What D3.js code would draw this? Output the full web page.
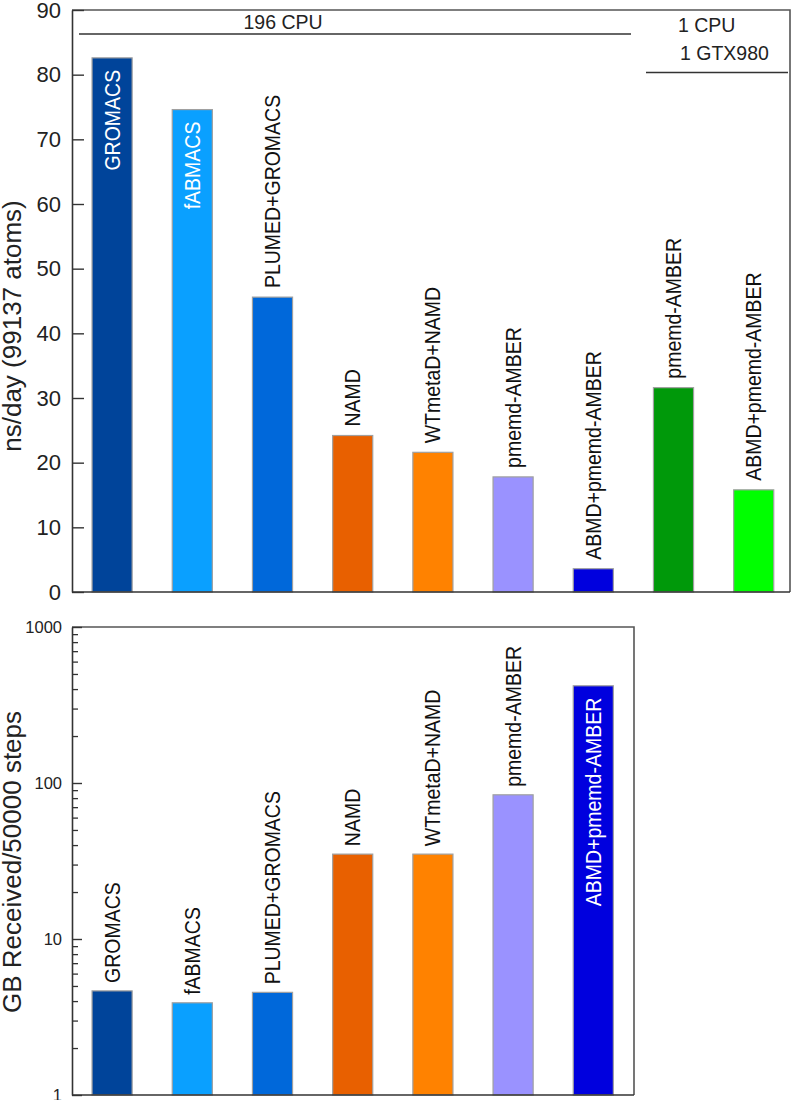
<!DOCTYPE html>
<html>
<head>
<meta charset="utf-8">
<script src="https://cdn.jsdelivr.net/npm/d3@7"></script>
<style>
  html, body { margin: 0; padding: 0; background: #fff; }
  svg { display: block; font-family: "Liberation Sans", Arial, Helvetica, sans-serif; }
</style>
</head>
<body>
<svg id="chart" width="797" height="1100"></svg>
<script>
// ---------- data ----------
const topCategories = ["GROMACS", "fABMACS", "PLUMED+GROMACS", "NAMD", "WTmetaD+NAMD",
  "pmemd-AMBER", "ABMD+pmemd-AMBER", "pmemd-AMBER", "ABMD+pmemd-AMBER"];
const topValues = [82.6, 74.6, 45.6, 24.2, 21.6, 17.8, 3.6, 31.6, 15.8];
const topTickValues = [0, 10, 20, 30, 40, 50, 60, 70, 80, 90];

const bottomCategories = ["GROMACS", "fABMACS", "PLUMED+GROMACS", "NAMD", "WTmetaD+NAMD",
  "pmemd-AMBER", "ABMD+pmemd-AMBER"];
const bottomValues = [4.65, 3.9, 4.55, 35, 35, 84, 420];
const bottomTickValues = [1, 10, 100, 1000];

const groupLabels = ["196 CPU", "1 CPU", "1 GTX980"];
const topTitle = "ns/day (99137 atoms)";
const bottomTitle = "GB Received/50000 steps";

// ---------- styles ----------
const barColors = ["#00449a", "#0aa0ff", "#0068da", "#e86000", "#ff8200",
  "#9a92ff", "#0000de", "#00990a", "#00ff00"];
const axisColor = "#333";
const barStroke = "#a0a0a0";

const svg = d3.select("#chart");
const step = 80.2;

// ---------- top chart ----------
const T = { left: 72, right: 790, top: 10, bottom: 592 };
const xTop = d3.scaleBand().domain(d3.range(topCategories.length))
  .range([T.left, T.left + step * topCategories.length]).paddingInner(0.5).paddingOuter(0.25);
const yTop = d3.scaleLinear().domain([0, 90]).range([T.bottom, T.top]);

const gTop = svg.append("g");

function drawBars(g, cats, vals, x, y, base, plotTop, gapOut, gapIn) {
  const bars = g.selectAll("g.bar").data(cats.map((c, i) => ({ c, v: vals[i], i })))
    .enter().append("g").attr("class", "bar");
  bars.append("rect")
    .attr("x", d => x(d.i))
    .attr("width", x.bandwidth())
    .attr("y", d => y(d.v))
    .attr("height", d => y(base) - y(d.v))
    .attr("fill", d => barColors[d.i])
    .attr("stroke", barStroke)
    .attr("stroke-width", 1.2);
  bars.each(function (d) {
    const cx = x(d.i) + x.bandwidth() / 2;
    const topY = y(d.v);
    const t = d3.select(this).append("text")
      .text(d.c)
      .attr("font-size", 19.5)
      .attr("fill", "#111");
    const len = t.node().getComputedTextLength();
    const inside = (topY - gapOut - len) < plotTop + 15;
    if (inside) {
      t.attr("text-anchor", "end").attr("fill", "#fff")
        .attr("transform", `translate(${cx + 7.5},${topY + gapIn}) scale(1.1,1) rotate(-90)`);
    } else {
      t.attr("text-anchor", "start")
        .attr("transform", `translate(${cx + 7.5},${topY - gapOut}) scale(1.1,1) rotate(-90)`);
    }
  });
}

drawBars(gTop, topCategories, topValues, xTop, yTop, 0, T.top, 9, 12);

// frame
gTop.append("path")
  .attr("d", `M${T.left},${T.top}H${T.right}V${T.bottom}`)
  .attr("fill", "none").attr("stroke", "#555").attr("stroke-width", 1.6);
gTop.append("line").attr("x1", T.left).attr("x2", T.right).attr("y1", T.bottom).attr("y2", T.bottom)
  .attr("stroke", axisColor).attr("stroke-width", 1.6);

const axTop = gTop.append("g").attr("transform", `translate(${T.left},0)`)
  .call(d3.axisLeft(yTop).tickValues(topTickValues).tickSizeInner(-12).tickSizeOuter(0).tickPadding(11));
axTop.select(".domain").attr("stroke", axisColor).attr("stroke-width", 1.6);
axTop.selectAll(".tick line").attr("stroke", axisColor).attr("stroke-width", 1.4);
axTop.selectAll(".tick text").attr("font-size", 22).attr("fill", "#222")
  .attr("font-family", "Liberation Sans, Arial, sans-serif");

svg.append("text").text(topTitle)
  .attr("font-size", 26).attr("fill", "#222").attr("text-anchor", "middle")
  .attr("transform", `translate(21,326) rotate(-90)`);

// group annotations
const cpuEnd = 631, gpuStart = 646;
svg.append("line").attr("x1", 79).attr("x2", cpuEnd).attr("y1", 34).attr("y2", 34)
  .attr("stroke", axisColor).attr("stroke-width", 1.6);
svg.append("text").text(groupLabels[0]).attr("x", 283).attr("y", 29)
  .attr("text-anchor", "middle").attr("font-size", 19.5).attr("fill", "#222");
svg.append("line").attr("x1", gpuStart).attr("x2", 788).attr("y1", 72.5).attr("y2", 72.5)
  .attr("stroke", axisColor).attr("stroke-width", 1.6);
svg.append("text").text(groupLabels[1]).attr("x", 678).attr("y", 32)
  .attr("font-size", 19.5).attr("fill", "#222");
svg.append("text").text(groupLabels[2]).attr("x", 680).attr("y", 60)
  .attr("font-size", 19.5).attr("fill", "#222");

// ---------- bottom chart ----------
const B = { left: 72, right: 634, top: 627, bottom: 1095 };
const xBot = d3.scaleBand().domain(d3.range(bottomCategories.length))
  .range([B.left, B.left + step * bottomCategories.length]).paddingInner(0.5).paddingOuter(0.25);
const yBot = d3.scaleLog().domain([1, 1000]).range([B.bottom, B.top]);

const gBot = svg.append("g");
drawBars(gBot, bottomCategories, bottomValues, xBot, yBot, 1, B.top, 8, 12);

gBot.append("path")
  .attr("d", `M${B.left},${B.top}H${B.right}V${B.bottom}`)
  .attr("fill", "none").attr("stroke", "#555").attr("stroke-width", 1.6);
gBot.append("line").attr("x1", B.left).attr("x2", B.right).attr("y1", B.bottom).attr("y2", B.bottom)
  .attr("stroke", axisColor).attr("stroke-width", 1.6);

const minorTicks = [];
for (let dec = 1; dec < 1000; dec *= 10) for (let m = 2; m <= 9; m++) minorTicks.push(dec * m);
const axBotMinor = gBot.append("g").attr("transform", `translate(${B.left},0)`)
  .call(d3.axisLeft(yBot).tickValues(minorTicks).tickSizeInner(-6).tickSizeOuter(0).tickFormat(""));
axBotMinor.select(".domain").remove();
axBotMinor.selectAll(".tick line").attr("stroke", axisColor).attr("stroke-width", 1.3);

const axBot = gBot.append("g").attr("transform", `translate(${B.left},0)`)
  .call(d3.axisLeft(yBot).tickValues(bottomTickValues).tickSizeInner(-10).tickSizeOuter(0)
    .tickPadding(10).tickFormat(d3.format("d")));
axBot.select(".domain").attr("stroke", axisColor).attr("stroke-width", 1.6);
axBot.selectAll(".tick line").attr("stroke", axisColor).attr("stroke-width", 1.4);
axBot.selectAll(".tick text").attr("font-size", 16.5).attr("fill", "#222")
  .attr("font-family", "Liberation Sans, Arial, sans-serif");

svg.append("text").text(bottomTitle)
  .attr("font-size", 26).attr("fill", "#222").attr("text-anchor", "middle")
  .attr("transform", `translate(21,862) rotate(-90)`);
</script>
</body>
</html>
